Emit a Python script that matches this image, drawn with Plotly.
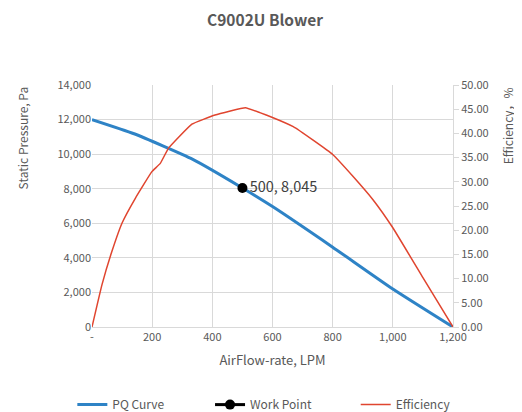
import plotly.graph_objects as go

# PQ curve (AirFlow LPM vs Static Pressure Pa)
pq_flow = [0, 140, 335, 500, 600, 800, 1000, 1200]
pq_pressure = [12000, 11180, 9700, 8045, 6970, 4620, 2200, 0]

# Efficiency curve (AirFlow LPM vs Efficiency %)
eff_flow = [0, 33, 66, 100, 144, 199, 227, 254, 332, 409, 510, 558, 600, 669, 735, 801, 868, 934, 1000, 1100, 1200]
eff_value = [0, 8.7, 15.6, 21.5, 26.6, 32.1, 33.8, 36.9, 41.9, 43.8, 45.3, 44.3, 43.3, 41.4, 38.6, 35.6, 31.1, 26.3, 20.5, 10.2, 0]

# Work point
wp_flow = [500]
wp_pressure = [8045]
wp_label = ["500, 8,045"]

x_tickvals = [0, 200, 400, 600, 800, 1000, 1200]
x_ticktext = ["-", "200", "400", "600", "800", "1,000", "1,200"]
y_tickvals = [0, 2000, 4000, 6000, 8000, 10000, 12000, 14000]
y_ticktext = ["0", "2,000", "4,000", "6,000", "8,000", "10,000", "12,000", "14,000"]
y2_tickvals = [0, 5, 10, 15, 20, 25, 30, 35, 40, 45, 50]
y2_ticktext = [f"{v:.2f}" for v in y2_tickvals]

FONT = "Noto Sans CJK SC, Open Sans, sans-serif"
GRAY = "#595959"
GRID = "#d9d9d9"

OFF = 8  # page body margin
W, H = 522 - OFF, 412 - OFF
L = 91.7 - OFF
T = 85 - OFF
R = W - (453.5 - OFF)
B = H - (327.3 - OFF)
PW = W - L - R
PH = H - T - B


def px_to_paper_x(px):
    return (px - OFF - L) / PW


def px_to_paper_y(py):
    return (H - B - (py - OFF)) / PH


fig = go.Figure()
fig.add_trace(go.Scatter(x=pq_flow, y=pq_pressure, mode="lines", name="PQ Curve", legend="legend",
                         line=dict(color="#2e83c6", width=3, shape="spline", smoothing=0.5)))
fig.add_trace(go.Scatter(x=wp_flow, y=wp_pressure, mode="lines+markers+text", name="Work Point",
                         legend="legend2",
                         text=wp_label, textposition="middle right",
                         textfont=dict(size=14.5, color="#404040", family=FONT),
                         marker=dict(color="black", size=10),
                         line=dict(color="black", width=3)))
fig.add_trace(go.Scatter(x=eff_flow, y=eff_value, mode="lines", name="Efficiency", yaxis="y2",
                         legend="legend3",
                         line=dict(color="#e0452f", width=1.5, shape="spline", smoothing=0.3)))

leg_common = dict(orientation="h", yanchor="middle", y=px_to_paper_y(405),
                  font=dict(size=12, color=GRAY), bgcolor="rgba(0,0,0,0)")

fig.update_layout(
    width=W, height=H,
    paper_bgcolor="white", plot_bgcolor="white",
    margin=dict(l=L, r=R, t=T, b=B, autoexpand=False),
    font=dict(family=FONT, size=11, color=GRAY),
    title=dict(text="C9002U Blower", x=0.5, xanchor="center", y=1 - (21 - OFF) / H, yanchor="middle",
               font=dict(size=15.5, color=GRAY, family=FONT, weight="bold")),
    xaxis=dict(range=[0, 1200], tickvals=x_tickvals, ticktext=x_ticktext, automargin=False,
               showgrid=True, gridcolor=GRID, gridwidth=1,
               showline=True, linecolor=GRID, zeroline=False,
               title=dict(text="AirFlow-rate, LPM", font=dict(size=13, color=GRAY), standoff=12),
               tickfont=dict(size=11, color=GRAY)),
    yaxis=dict(range=[0, 14000], tickvals=y_tickvals, ticktext=y_ticktext, automargin=False,
               showgrid=True, gridcolor=GRID, gridwidth=1, zeroline=False, showline=False,
               tickfont=dict(size=11, color=GRAY)),
    yaxis2=dict(range=[0, 50], tickvals=y2_tickvals, ticktext=y2_ticktext, overlaying="y", side="right",
                automargin=False,
                showgrid=False, zeroline=False, showline=True, linecolor=GRID,
                ticks="outside", ticklen=5, tickcolor=GRID,
                tickfont=dict(size=11, color=GRAY)),
    legend=dict(leg_common, x=px_to_paper_x(72), xanchor="left"),
    legend2=dict(leg_common, x=px_to_paper_x(210), xanchor="left"),
    legend3=dict(leg_common, x=px_to_paper_x(356), xanchor="left"),
    showlegend=True,
    annotations=[
        dict(text="Static Pressure, Pa", xref="paper", yref="paper",
             x=px_to_paper_x(22), y=px_to_paper_y(138), xanchor="center", yanchor="middle",
             textangle=-90, showarrow=False, font=dict(size=12, color=GRAY)),
        dict(text="Efficiency，%", xref="paper", yref="paper",
             x=px_to_paper_x(509), y=px_to_paper_y(126), xanchor="center", yanchor="middle",
             textangle=-90, showarrow=False, font=dict(size=12, color=GRAY)),
    ],
)

fig.write_html("out.html")
